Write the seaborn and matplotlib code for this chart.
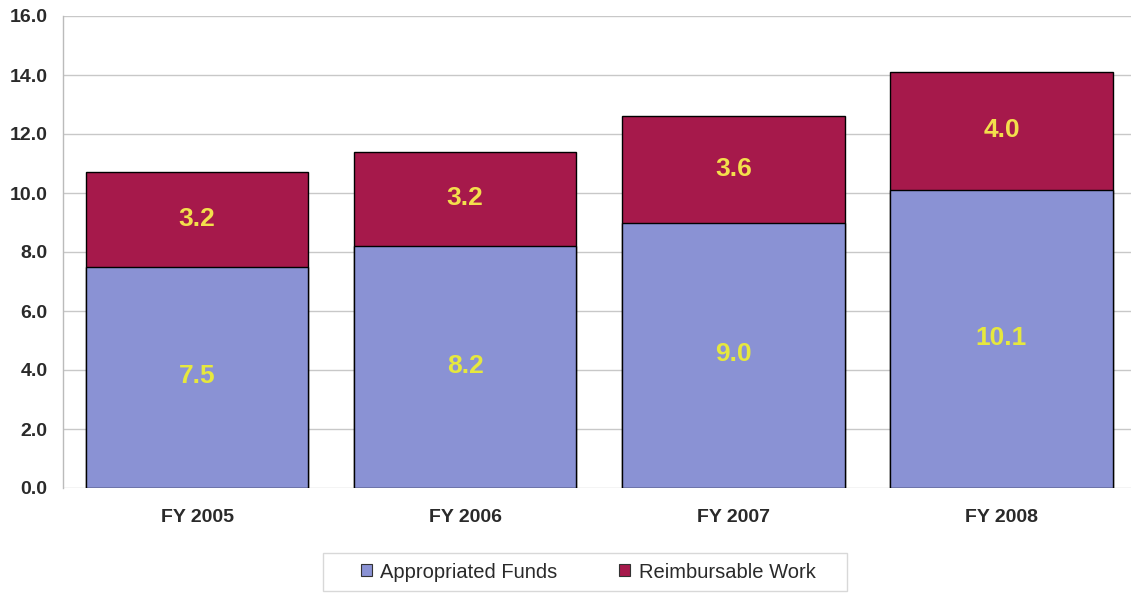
import numpy as np
import pandas as pd
import matplotlib
matplotlib.use("Agg")
import matplotlib.pyplot as plt
import seaborn as sns
from matplotlib.patches import Patch, Rectangle

years = ["FY 2005", "FY 2006", "FY 2007", "FY 2008"]
appropriated = [7.5, 8.2, 9.0, 10.1]
reimbursable = [3.2, 3.2, 3.6, 4.0]
series_names = ["Appropriated Funds", "Reimbursable Work"]
yticks = [0, 2, 4, 6, 8, 10, 12, 14, 16]

blue = "#8a92d4"
red = "#a6194b"

sns.set_theme(style="white")
plt.rcParams["font.family"] = ["Liberation Sans", "DejaVu Sans"]

df = pd.DataFrame({"year": years,
                   "appropriated": appropriated,
                   "reimbursable": reimbursable})
df["total"] = df["appropriated"] + df["reimbursable"]

W, H = 1131, 593
fig = plt.figure(figsize=(W / 100, H / 100), dpi=100)
ax = fig.add_axes([63 / W, 1 - 488 / H, 1 - 63 / W, 472 / H])

# stacked bars: full totals in red, appropriated portion drawn over them in blue
sns.barplot(data=df, x="year", y="total", color=red, saturation=1,
            width=0.83, edgecolor="black", linewidth=1.0, ax=ax, zorder=2)
sns.barplot(data=df, x="year", y="appropriated", color=blue, saturation=1,
            width=0.83, edgecolor="black", linewidth=1.0, ax=ax, zorder=3)

ax.set_ylim(0, 16)
ax.set_xlim(-0.5, 3.483)
ax.set_yticks(yticks)
ax.set_yticklabels([f"{v:.1f}" for v in yticks], fontsize=14,
                   fontweight="bold", color="#2a2a2a")
ax.set_xticks(range(len(years)))
ax.set_xticklabels(years, fontsize=14, fontweight="bold", color="#2a2a2a")
ax.tick_params(axis="x", pad=15, length=0)
ax.tick_params(axis="y", pad=11, length=0)
ax.set_xlabel("")
ax.set_ylabel("")
ax.yaxis.grid(True, color="#c8c8c8", linewidth=1.0, zorder=0)
ax.set_axisbelow(True)
for side in ["top", "right", "bottom"]:
    ax.spines[side].set_visible(False)
ax.spines["left"].set_color("#bbbbbb")
ax.spines["left"].set_linewidth(1.0)

# value labels centred in each segment
for i in range(len(years)):
    a = appropriated[i]
    r = reimbursable[i]
    ax.text(i, a / 2 + 0.05, f"{a:.1f}", ha="center", va="center",
            fontsize=19, fontweight="bold", color="#e6e83e", zorder=5)
    ax.text(i, a + r / 2 + 0.02, f"{r:.1f}", ha="center", va="center",
            fontsize=19, fontweight="bold", color="#f3df4c", zorder=5)

# legend box along the bottom
fig.patches.append(Rectangle((323 / W, 1 - 591 / H), 524 / W, 38 / H,
                             transform=fig.transFigure, facecolor="white",
                             edgecolor="#d8d8d8", linewidth=1.0))
handles = [Patch(facecolor=blue, edgecolor="#333333", linewidth=0.8),
           Patch(facecolor=red, edgecolor="#333333", linewidth=0.8)]
leg = fig.legend(handles, series_names, loc="center",
                 bbox_to_anchor=(588 / W, 1 - 572 / H), ncol=2,
                 fontsize=14.5, frameon=False,
                 handlelength=0.55, handleheight=0.55, handletextpad=0.4,
                 columnspacing=3.1, borderpad=0.0)
for t in leg.get_texts():
    t.set_color("#2a2a2a")

fig.savefig("out.png", dpi=100)
